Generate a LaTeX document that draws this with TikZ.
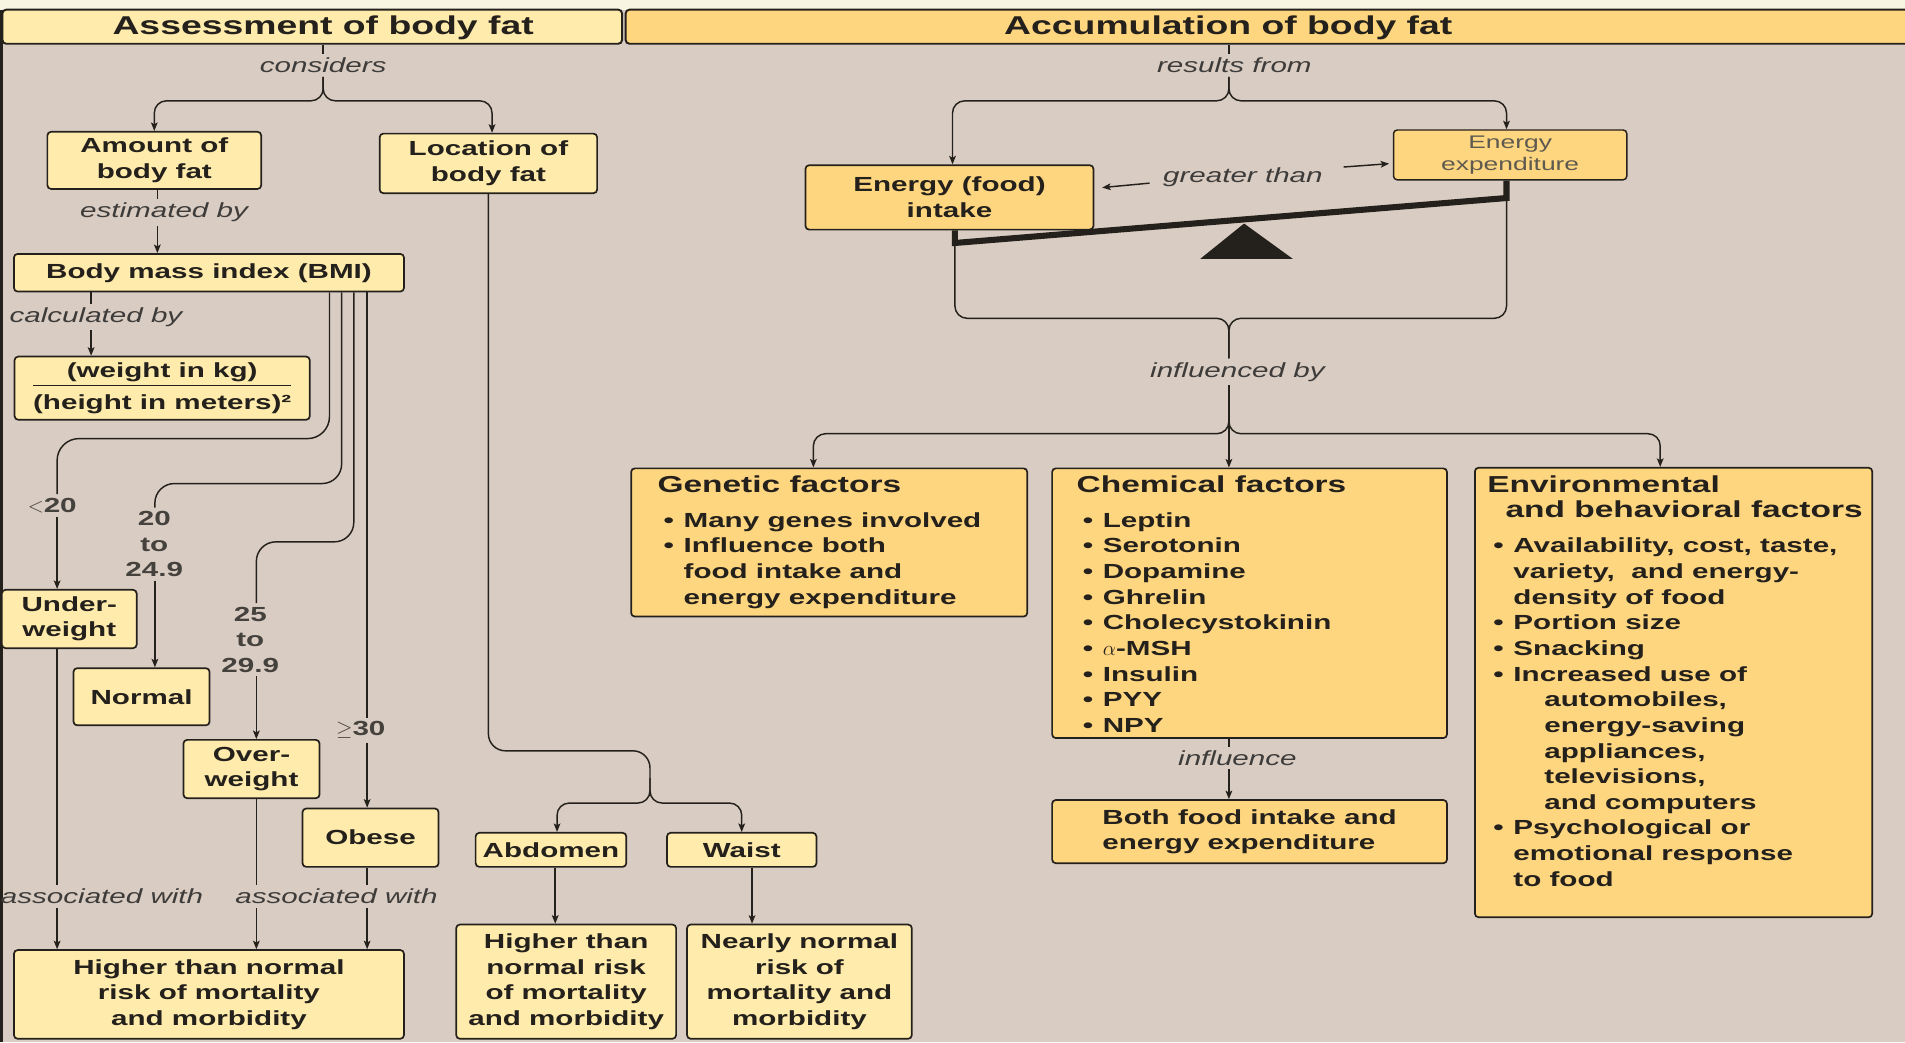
\documentclass[tikz,border=0pt]{standalone}
\usepackage{fontspec}
\setmainfont{Liberation Sans}[FakeStretch=1.45]
\usetikzlibrary{arrows.meta}
\usetikzlibrary{calc}

\definecolor{bgbeige}{RGB}{217,204,194}
\definecolor{paleyel}{RGB}{255,236,172}
\definecolor{warmyel}{RGB}{254,214,127}
\definecolor{topcream}{RGB}{249,245,227}
\definecolor{ink}{RGB}{36,32,28}
\definecolor{lblgray}{RGB}{62,60,58}
\definecolor{expgray}{RGB}{95,90,80}

\newcommand{\bul}{\hspace*{5pt}\makebox[16.5pt][l]{\textbullet}}
\newcommand{\contind}{\hspace*{21.5pt}}
\newcommand{\subind}{\hspace*{47pt}}
\newcommand{\fhd}[1]{{\fontsize{19}{21.5}\selectfont #1}}

\begin{document}
\begin{tikzpicture}[x=1pt,y=-1pt,
    lbox/.style={draw=ink, line width=1.4pt, fill=paleyel, rounded corners=3pt, align=center, inner sep=2pt, text=ink, font=\bfseries\fontsize{16.8}{21}\selectfont},
    dbox/.style={lbox, fill=warmyel},
    hdr/.style={draw=ink, line width=1.6pt, rounded corners=3pt, minimum height=28},
    ttl/.style={font=\bfseries\fontsize{21.2}{24}\selectfont, text=ink, inner sep=0pt},
    lbl/.style={font=\itshape\fontsize{16.8}{21}\selectfont, text=lblgray, inner sep=3pt},
    num/.style={font=\bfseries\fontsize{16.8}{21}\selectfont, text=ink!85, align=center, inner sep=3pt},
    factxt/.style={font=\bfseries\fontsize{16.8}{21.1}\selectfont, text=ink, align=left, inner sep=0pt, anchor=north west},
    link/.style={draw=ink, line width=1.2pt},
    linkto/.style={link, -{Stealth[length=7pt,width=5.5pt,inset=1.5pt]}},
    beam/.style={draw=ink, line width=5pt},
]
    \useasboundingbox (0,0) rectangle (1568,858);
    \clip (0,0) rectangle (1568,858);
    \fill[bgbeige] (0,0) rectangle (1568,858);
    \fill[topcream] (0,0) rectangle (1568,8);
    \draw[ink, line width=2.5pt] (1.2,8) -- (1.2,858);

    \node[hdr, fill=paleyel, minimum width=510] (hdrL) at (257,22) {};
    \node[hdr, fill=warmyel, minimum width=1070] (hdrR) at (1050,22) {};
    \node[ttl] (hdrLtxt) at (266,23) {Assessment of body fat};
    \node[ttl] (hdrRtxt) at (1011,23) {Accumulation of body fat};

    \node[lbox, minimum width=176, minimum height=47] (amount) at (127,132) {Amount of\\body fat};
    \node[lbox, minimum width=179, minimum height=49] (location) at (402,134.5) {Location of\\body fat};
    \node[lbox, minimum width=321, minimum height=31] (bmi) at (172,224.5) {Body mass index (BMI)};
    \node[lbox, minimum width=243, minimum height=52] (formula) at (133.5,319.5) {(weight in kg)\\[-14pt]\rule{212pt}{1.2pt}\\[-2pt](height in meters)²};
    \node[lbox, minimum width=111, minimum height=48] (under) at (57,509.5) {Under-\\weight};
    \node[lbox, minimum width=112, minimum height=47] (normal) at (116.5,573.5) {Normal};
    \node[lbox, minimum width=112, minimum height=48] (over) at (207,633) {Over-\\weight};
    \node[lbox, minimum width=112, minimum height=48] (obese) at (305,689.5) {Obese};
    \node[lbox, minimum width=321, minimum height=73] (higherL) at (172,818.5) {Higher than normal\\risk of mortality\\and morbidity};
    \node[lbox, minimum width=124, minimum height=28] (abdomen) at (453.5,699.5) {Abdomen};
    \node[lbox, minimum width=123, minimum height=28] (waist) at (610.5,699.5) {Waist};
    \node[lbox, minimum width=181, minimum height=94] (higherM) at (466,808) {Higher than\\normal risk\\of mortality\\and morbidity};
    \node[lbox, minimum width=185, minimum height=94] (nearly) at (658,808) {Nearly normal\\risk of\\mortality and\\morbidity};

    \node[lbl] (considers) at (266,54) {considers};
    \node[lbl] (estimated) at (135,175) {estimated by};
    \node[lbl] (calculated) at (79,261) {calculated by};
    \node[num] (lt20) at (43,416) {$<$20};
    \node[num] (r2024) at (127,448) {20\\to\\24.9};
    \node[num] (r2529) at (206,526.5) {25\\to\\29.9};
    \node[num] (ge30) at (297,601) {$\geq$30};
    \node[lbl] (assocL) at (84,738) {associated with};
    \node[lbl] (assocR) at (277,738) {associated with};

    \coordinate (consB) at (266,83);
    \coordinate (estX) at (129.5,175);
    \coordinate (calcX) at (75,261);
    \coordinate (rangeA) at ([xshift=-62pt]bmi.south east);
    \coordinate (rangeB) at ([xshift=-52pt]bmi.south east);
    \coordinate (rangeC) at ([xshift=-42pt]bmi.south east);
    \coordinate (rangeD) at ([xshift=-31pt]bmi.south east);
    \coordinate (turnA) at (47,361);
    \coordinate (turnB) at (127.5,398);
    \coordinate (turnC) at (211,446);
    \coordinate (locbend) at (535,618);
    \coordinate (locmid) at (535,640);
    \coordinate (locsplit) at (535,661);
    \coordinate (abdX) at ([xshift=3.5pt]abdomen.south);
    \coordinate (waiX) at ([xshift=8.5pt]waist.south);

    \draw[link] (considers |- hdrL.south) -- (considers);
    \draw[linkto, rounded corners=10] (considers) -- (consB) -| (amount.north);
    \draw[linkto, rounded corners=10] (considers) -- (consB) -| ([xshift=3pt]location.north);
    \draw[link] (estX |- amount.south) -- (estX |- estimated.north);
    \draw[linkto] (estX |- estimated.south) -- (estX |- bmi.north);
    \draw[link] (calcX |- bmi.south) -- (calcX |- calculated.north);
    \draw[linkto] (calcX |- calculated.south) -- (calcX |- formula.north);

    \draw[link, rounded corners=18] (rangeA) |- (turnA) -- (turnA |- lt20.north);
    \draw[linkto] (turnA |- lt20.south) -- (turnA |- under.north);
    \draw[link, rounded corners=16] (rangeB) |- (turnB) -- (turnB |- r2024.north);
    \draw[linkto] (turnB |- r2024.south) -- (turnB |- normal.north);
    \draw[link, rounded corners=16] (rangeC) |- (turnC) -- (turnC |- r2529.north);
    \draw[linkto] (turnC |- r2529.south) -- (turnC |- over.north);
    \draw[link] (rangeD) -- (rangeD |- ge30.north);
    \draw[linkto] (rangeD |- ge30.south) -- (rangeD |- obese.north);

    \draw[link] (turnA |- under.south) -- (turnA |- assocL.north);
    \draw[linkto] (turnA |- assocL.south) -- (turnA |- higherL.north);
    \draw[link] (turnC |- over.south) -- (turnC |- assocR.north);
    \draw[linkto] (turnC |- assocR.south) -- (turnC |- higherL.north);
    \draw[link] (rangeD |- obese.south) -- (rangeD |- assocR.north);
    \draw[linkto] (rangeD |- assocR.south) -- (rangeD |- higherL.north);

    \draw[link, rounded corners=14] (location) |- (locbend) -- (locmid);
    \draw[linkto, rounded corners=10] (locmid) -- (locsplit) -| ([xshift=5pt]abdomen.north);
    \draw[linkto, rounded corners=10] (locmid) -- (locsplit) -| (waist.north);
    \draw[linkto] (abdX) -- (abdX |- higherM.north);
    \draw[linkto] (waiX) -- (waiX |- nearly.north);

    \node[dbox, minimum width=237, minimum height=53] (intake) at (781.5,162.5) {Energy (food)\\intake};
    \node[dbox, minimum width=192, minimum height=41, line width=1.2pt, text=expgray, font=\fontsize{15}{18.4}\selectfont] (expend) at (1243,127.5) {Energy\\expenditure};
    \node[lbl] (resfrom) at (1016,54) {results from};
    \node[lbl] (greater) at (1023,146) {greater than};
    \node[lbl] (influenced) at (1018.5,306) {influenced by};
    \node[lbl] (influence) at (1018.5,624) {influence};

    \node[dbox, minimum width=326, minimum height=122] (genetic) at (682.5,446.5) {};
    \node[factxt] (genetictxt) at (541,391) {\fhd{Genetic factors}\\[8pt]
        \bul Many genes involved\\
        \bul Influence both\\
        \contind food intake and\\
        \contind energy expenditure};
    \node[dbox, minimum width=325, minimum height=222] (chemical) at (1028.5,496.5) {};
    \node[factxt] (chemicaltxt) at (886,391) {\fhd{Chemical factors}\\[8pt]
        \bul Leptin\\
        \bul Serotonin\\
        \bul Dopamine\\
        \bul Ghrelin\\
        \bul Cholecystokinin\\
        \bul $\alpha$-MSH\\
        \bul Insulin\\
        \bul PYY\\
        \bul NPY};
    \node[dbox, minimum width=325, minimum height=52, align=left] (both) at (1028.5,684.5) {Both food intake and\\energy expenditure};
    \node[dbox, minimum width=327, minimum height=370] (envir) at (1377.5,570) {};
    \node[factxt] (envirtxt) at (1224,391) {\fhd{Environmental}\\
        \fhd{\hspace*{15pt}and behavioral factors}\\[8pt]
        \bul Availability, cost, taste,\\
        \contind variety,\ \ and energy-\\
        \contind density of food\\
        \bul Portion size\\
        \bul Snacking\\
        \bul Increased use of\\
        \subind automobiles,\\
        \subind energy-saving\\
        \subind appliances,\\
        \subind televisions,\\
        \subind and computers\\
        \bul Psychological or\\
        \contind emotional response\\
        \contind to food};

    \coordinate (resB) at (1011.5,83);
    \coordinate (beamL) at (786,200);
    \coordinate (beamR) at (1240,163);
    \coordinate (pivot) at (1024,184);
    \coordinate (infB) at (1011.5,262);
    \coordinate (infS) at (1011.5,357);

    \draw[link] (resB |- hdrR.south) -- (resB |- resfrom.north);
    \draw[linkto, rounded corners=10] (resB |- resfrom.south) -- (resB) -| ([xshift=2.5pt]intake.north);
    \draw[linkto, rounded corners=10] (resB |- resfrom.south) -- (resB) -| ([xshift=-3pt]expend.north);
    \draw[linkto, shorten <=8pt, shorten >=6.5pt] ([yshift=-4pt]greater.west) -- ([yshift=7.5pt]intake.east);
    \draw[linkto, shorten <=14pt, shorten >=3pt] ([yshift=7.5pt]greater.east) -- ([yshift=-7pt]expend.west);

    \draw[beam] (intake.south -| beamL) -- (beamL) -- (beamR) -- (beamR |- expend.south);
    \fill[ink] (pivot) -- ++(-36,29) -- ++(76,0) -- cycle;

    \draw[link, rounded corners=10] (beamL) |- (infB) -- (infB |- influenced.north);
    \draw[link, rounded corners=10] (beamR) |- (infB) -- (infB |- influenced.north);
    \draw[linkto, rounded corners=10] (infB |- influenced.south) -- (infS) -| ([xshift=-13pt]genetic.north);
    \draw[linkto] (infB |- influenced.south) -- (infB |- chemical.north);
    \draw[linkto, rounded corners=10] (infB |- influenced.south) -- (infS) -| ([xshift=-11pt]envir.north);
    \draw[link] (infB |- chemical.south) -- (infB |- influence.north);
    \draw[linkto] (infB |- influence.south) -- (infB |- both.north);
\end{tikzpicture}
\end{document}
